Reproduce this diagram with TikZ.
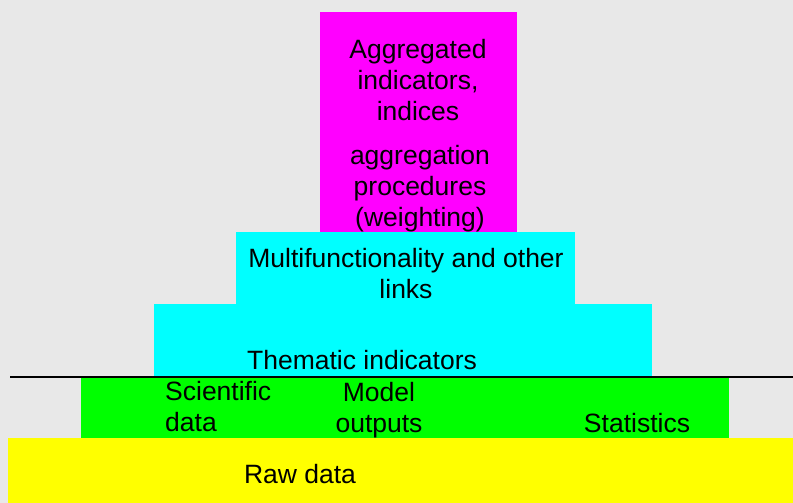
\documentclass[tikz,border=0pt]{standalone}
\usepackage{fontspec}
\setmainfont{Liberation Sans}
\usetikzlibrary{positioning}

\definecolor{bggray}{RGB}{232,232,232}
\definecolor{aggrpink}{RGB}{255,0,255}
\definecolor{themecyan}{RGB}{0,255,255}
\definecolor{datagreen}{RGB}{0,255,0}
\definecolor{rawyellow}{RGB}{255,255,0}

\begin{document}
\begin{tikzpicture}[x=1pt,y=-1pt,
  layer/.style={anchor=north west, inner sep=0pt, outer sep=0pt},
  txt/.style={inner sep=0pt, align=center, font=\fontsize{26.5}{31}\selectfont}]
  % background
  \fill[bggray] (0,0) rectangle (793,503);
  \useasboundingbox (0,0) rectangle (793,503);
  % layers of the pyramid, top to bottom
  \node[layer, fill=aggrpink, minimum width=197pt, minimum height=220pt] (aggr) at (320,12) {};
  \node[layer, fill=themecyan, minimum width=339pt, minimum height=72pt] (multi) at (236,232) {};
  \node[layer, fill=themecyan, minimum width=498pt, minimum height=73pt] (theme) at (154,304) {};
  \node[layer, fill=datagreen, minimum width=648pt, minimum height=61pt] (data) at (81,377) {};
  \node[layer, fill=rawyellow, minimum width=785pt, minimum height=65pt] (raw) at (8,438) {};
  % separator line
  \coordinate (sepL) at (10,377);
  \coordinate (sepR) at (793,377);
  \draw[line width=1.5pt] (sepL) -- (sepR);
  % texts
  \node[txt] (aggrtxt) at (418,80) {Aggregated\\indicators,\\indices};
  \node[txt] (proctxt) at (420,189) {aggregation\\procedures\\(weighting)};
  \node[txt] (multitxt) at (406,274) {Multifunctionality and other\\links};
  \node[txt] (themetxt) at (362,360) {Thematic indicators};
  \node[txt, align=left, anchor=west] (scitxt) at (165,407) {Scientific\\data};
  \node[txt] (modeltxt) at (379,410) {Model\\outputs};
  \node[txt] (stattxt) at (637,423) {Statistics};
  \node[txt] (rawtxt) at (300,474) {Raw data};
\end{tikzpicture}
\end{document}
